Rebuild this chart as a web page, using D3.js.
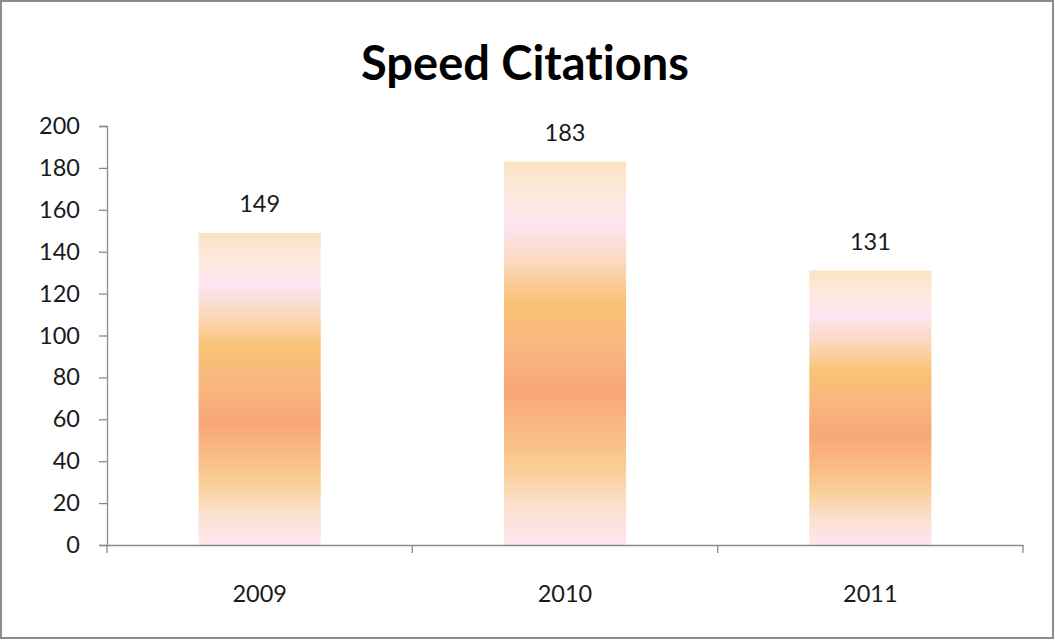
<!DOCTYPE html>
<html><head><meta charset="utf-8">
<script src="https://cdn.jsdelivr.net/npm/d3@7"></script>
<style>
html,body{margin:0;padding:0;background:#fff;}
svg{display:block;}
text{font-variant-ligatures:none;font-feature-settings:"liga" 0;}
</style></head>
<body>
<svg id="chart" width="1055" height="641"></svg>
<script>
const categories = ["2009", "2010", "2011"];
const values = [149, 183, 131];
const yTicks = [0, 20, 40, 60, 80, 100, 120, 140, 160, 180, 200];
const title = "Speed Citations";

const W = 1055, H = 641;
const svg = d3.select("#chart");
const font = "Lato, 'Open Sans', sans-serif";

// frame
svg.append("rect").attr("x", 1).attr("y", 1).attr("width", W - 3).attr("height", H - 4)
  .attr("fill", "#fff").attr("stroke", "#8c8c8c").attr("stroke-width", 2);

const m = {left: 107, right: 1023, top: 126, bottom: 545};
const x = d3.scaleBand().domain(categories).range([m.left, m.right]).padding(0);
const y = d3.scaleLinear().domain([0, 200]).range([m.bottom, m.top]);

// gradient
const defs = svg.append("defs");
const g = defs.append("linearGradient").attr("id", "barGrad")
  .attr("x1", 0).attr("y1", 0).attr("x2", 0).attr("y2", 1);
[[0, "#fbe3c2"], [0.08, "#fce9dc"], [0.17, "#fde4f0"], [0.26, "#fbd8bf"],
 [0.37, "#f8c274"], [0.48, "#f8b780"], [0.6, "#f8a677"], [0.72, "#f9bd85"],
 [0.81, "#fad09a"], [0.9, "#fbe0cf"], [1, "#fde6ef"]]
  .forEach(([o, c]) => g.append("stop").attr("offset", o).attr("stop-color", c));

const barW = x.bandwidth() * 0.4;
const data = categories.map((c, i) => ({c, v: values[i]}));

svg.append("g").selectAll("rect").data(data).join("rect")
  .attr("x", d => x(d.c) + (x.bandwidth() - barW) / 2)
  .attr("y", d => y(d.v))
  .attr("width", barW)
  .attr("height", d => y(0) - y(d.v))
  .attr("fill", "url(#barGrad)");

// y axis
const yAxis = svg.append("g").attr("transform", `translate(${m.left},0)`)
  .call(d3.axisLeft(y).tickValues(yTicks).tickSize(8).tickPadding(19));
yAxis.select(".domain").attr("stroke", "#8a8a8a").attr("stroke-width", 1.3);
yAxis.selectAll(".tick line").attr("stroke", "#8a8a8a").attr("stroke-width", 1.3);
yAxis.selectAll(".tick text").attr("font-family", font).attr("font-size", 23.5)
  .attr("fill", "#1a1a1a");

// x axis
const xAxis = svg.append("g").attr("transform", `translate(0,${m.bottom})`)
  .call(d3.axisBottom(x).tickSize(0).tickPadding(40));
xAxis.select(".domain").attr("stroke", "#8a8a8a").attr("stroke-width", 1.3);
xAxis.selectAll(".tick text").attr("font-family", font).attr("font-size", 23.5)
  .attr("fill", "#1a1a1a");
// category boundary ticks
const bounds = categories.map(c => x(c)).concat([x(categories[categories.length - 1]) + x.bandwidth()]);
svg.append("g").selectAll("line").data(bounds).join("line")
  .attr("x1", d => d).attr("x2", d => d)
  .attr("y1", m.bottom).attr("y2", m.bottom + 8)
  .attr("stroke", "#8a8a8a").attr("stroke-width", 1.3);

// value labels
svg.append("g").selectAll("text").data(data).join("text")
  .attr("x", d => x(d.c) + x.bandwidth() / 2)
  .attr("y", d => y(d.v) - 21)
  .attr("text-anchor", "middle")
  .attr("font-family", font).attr("font-size", 23.5).attr("fill", "#1a1a1a")
  .text(d => d.v);

// title
svg.append("text").attr("x", 525).attr("y", 80).attr("text-anchor", "middle")
  .attr("font-family", font).attr("font-weight", "bold").attr("font-size", 47)
  .attr("fill", "#000").text(title);
</script>
</body></html>
